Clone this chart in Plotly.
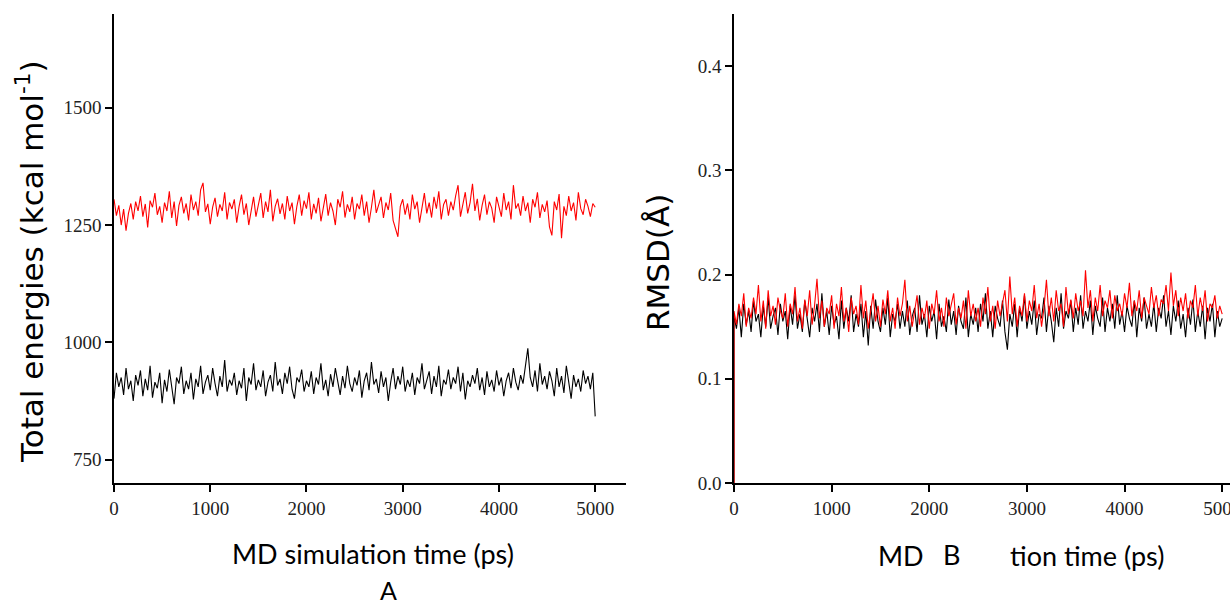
import plotly.graph_objects as go

# ---- data ----
time_ps = list(range(0, 5001, 25))

energy_red = [1305, 1270, 1292, 1250, 1284, 1238, 1275, 1296, 1262, 1300,
              1280, 1312, 1268, 1295, 1245, 1302, 1288, 1318, 1272, 1290,
              1255, 1298, 1280, 1322, 1265, 1300, 1248, 1292, 1310, 1275,
              1296, 1260, 1315, 1282, 1300, 1270, 1325, 1340, 1278, 1295,
              1252, 1288, 1308, 1268, 1294, 1280, 1320, 1262, 1298, 1284,
              1305, 1255, 1290, 1315, 1272, 1296, 1250, 1285, 1310, 1268,
              1292, 1318, 1265, 1300, 1278, 1325, 1258, 1290, 1306, 1274,
              1296, 1262, 1312, 1280, 1298, 1252, 1290, 1315, 1270, 1302,
              1285, 1320, 1262, 1295, 1275, 1308, 1258, 1292, 1316, 1270,
              1298, 1280, 1250, 1305, 1288, 1322, 1266, 1294, 1278, 1310,
              1262, 1296, 1284, 1315, 1270, 1300, 1255, 1288, 1325, 1276,
              1292, 1310, 1265, 1298, 1282, 1318, 1260, 1240, 1225, 1290,
              1305, 1272, 1296, 1262, 1315, 1284, 1300, 1255, 1290, 1318,
              1275, 1298, 1266, 1310, 1285, 1322, 1262, 1294, 1305, 1270,
              1300, 1282, 1312, 1335, 1268, 1295, 1320, 1275, 1298, 1338,
              1280, 1306, 1260, 1292, 1315, 1272, 1300, 1286, 1255, 1310,
              1290, 1268, 1318, 1282, 1300, 1262, 1335, 1285, 1296, 1270,
              1312, 1280, 1298, 1255, 1305, 1288, 1320, 1265, 1294, 1278,
              1302, 1246, 1228, 1300, 1282, 1316, 1222, 1290, 1270, 1312,
              1280, 1298, 1260, 1320, 1285, 1272, 1305, 1290, 1268, 1296,
              1288]

energy_black = [880, 935, 905, 925, 888, 945, 900, 918, 875, 930,
                908, 940, 885, 922, 898, 950, 882, 915, 902, 935,
                870, 920, 895, 942, 905, 868, 925, 912, 948, 890,
                918, 900, 935, 878, 922, 905, 950, 890, 915, 930,
                898, 945, 912, 885, 928, 905, 962, 895, 920, 908,
                935, 888, 918, 902, 945, 875, 925, 910, 955, 898,
                920, 905, 940, 885, 915, 930, 895, 958, 908, 922,
                890, 935, 912, 948, 900, 880, 925, 915, 942, 895,
                918, 905, 938, 890, 925, 910, 955, 898, 920, 885,
                932, 905, 945, 915, 888, 928, 902, 950, 912, 895,
                925, 908, 940, 882, 918, 935, 898, 958, 910, 922,
                892, 938, 905, 925, 875, 915, 945, 900, 928, 910,
                948, 895, 920, 905, 935, 888, 925, 912, 955, 900,
                918, 938, 890, 928, 905, 950, 885, 920, 910, 942,
                900, 925, 912, 948, 895, 935, 878, 918, 905, 930,
                912, 945, 898, 925, 888, 938, 905, 920, 895, 940,
                908, 925, 885, 918, 935, 902, 945, 915, 898, 930,
                912, 950, 987, 925, 905, 940, 895, 955, 910, 928,
                900, 938, 918, 885, 945, 905, 928, 892, 950, 915,
                880, 930, 905, 922, 895, 940, 912, 928, 900, 935,
                842]

rmsd_black = [0.160, 0.148, 0.168, 0.140, 0.172, 0.152, 0.165, 0.145, 0.175, 0.155,
              0.162, 0.140, 0.170, 0.150, 0.178, 0.148, 0.160, 0.168, 0.142, 0.172,
              0.155, 0.165, 0.138, 0.170, 0.152, 0.180, 0.148, 0.162, 0.145, 0.175,
              0.158, 0.140, 0.168, 0.155, 0.172, 0.145, 0.182, 0.150, 0.165, 0.142,
              0.170, 0.152, 0.160, 0.138, 0.175, 0.148, 0.168, 0.155, 0.180, 0.145,
              0.162, 0.150, 0.172, 0.140, 0.165, 0.132, 0.170, 0.148, 0.176, 0.155,
              0.145, 0.168, 0.152, 0.178, 0.140, 0.162, 0.155, 0.172, 0.148, 0.165,
              0.150, 0.175, 0.142, 0.160, 0.168, 0.145, 0.180, 0.152, 0.162, 0.140,
              0.170, 0.155, 0.165, 0.138, 0.172, 0.150, 0.160, 0.145, 0.176, 0.152,
              0.165, 0.142, 0.170, 0.155, 0.148, 0.178, 0.140, 0.162, 0.152, 0.168,
              0.145, 0.172, 0.155, 0.182, 0.148, 0.165, 0.140, 0.170, 0.158, 0.150,
              0.175, 0.145, 0.128, 0.162, 0.150, 0.172, 0.140, 0.168, 0.155, 0.180,
              0.148, 0.165, 0.152, 0.175, 0.142, 0.162, 0.158, 0.178, 0.145, 0.170,
              0.155, 0.135, 0.168, 0.150, 0.182, 0.148, 0.165, 0.158, 0.175, 0.145,
              0.168, 0.152, 0.180, 0.148, 0.165, 0.155, 0.175, 0.142, 0.170, 0.158,
              0.150, 0.178, 0.145, 0.168, 0.155, 0.172, 0.148, 0.180, 0.152, 0.165,
              0.145, 0.170, 0.158, 0.150, 0.175, 0.140, 0.168, 0.155, 0.178, 0.148,
              0.162, 0.150, 0.172, 0.145, 0.168, 0.158, 0.180, 0.150, 0.165, 0.142,
              0.170, 0.155, 0.175, 0.148, 0.162, 0.140, 0.168, 0.152, 0.176, 0.145,
              0.165, 0.150, 0.170, 0.138, 0.168, 0.155, 0.172, 0.140, 0.165, 0.150,
              0.158]

rmsd_red = [0.165, 0.152, 0.172, 0.160, 0.182, 0.150, 0.168, 0.158, 0.178, 0.162,
            0.190, 0.155, 0.175, 0.148, 0.185, 0.160, 0.170, 0.152, 0.178, 0.165,
            0.158, 0.182, 0.150, 0.172, 0.162, 0.188, 0.155, 0.168, 0.148, 0.176,
            0.160, 0.185, 0.152, 0.170, 0.196, 0.158, 0.175, 0.150, 0.168, 0.162,
            0.180, 0.148, 0.172, 0.160, 0.188, 0.155, 0.168, 0.145, 0.178, 0.162,
            0.170, 0.152, 0.190, 0.158, 0.175, 0.148, 0.165, 0.182, 0.155, 0.170,
            0.150, 0.176, 0.162, 0.185, 0.155, 0.168, 0.148, 0.178, 0.160, 0.172,
            0.195, 0.155, 0.170, 0.150, 0.165, 0.180, 0.152, 0.168, 0.158, 0.175,
            0.148, 0.172, 0.162, 0.185, 0.155, 0.168, 0.150, 0.178, 0.160, 0.170,
            0.182, 0.152, 0.168, 0.158, 0.175, 0.148, 0.185, 0.160, 0.172, 0.155,
            0.168, 0.150, 0.178, 0.162, 0.188, 0.155, 0.170, 0.148, 0.175, 0.160,
            0.172, 0.185, 0.155, 0.198, 0.162, 0.178, 0.150, 0.170, 0.160, 0.182,
            0.155, 0.175, 0.165, 0.190, 0.158, 0.172, 0.150, 0.168, 0.195, 0.160,
            0.178, 0.155, 0.185, 0.165, 0.172, 0.150, 0.188, 0.162, 0.176, 0.158,
            0.182, 0.165, 0.175, 0.160, 0.204, 0.168, 0.185, 0.155, 0.178, 0.165,
            0.190, 0.160, 0.175, 0.168, 0.185, 0.158, 0.180, 0.165, 0.172, 0.160,
            0.182, 0.168, 0.192, 0.160, 0.175, 0.165, 0.185, 0.158, 0.178, 0.170,
            0.162, 0.188, 0.168, 0.180, 0.160, 0.176, 0.172, 0.190, 0.165, 0.202,
            0.170, 0.185, 0.160, 0.178, 0.165, 0.182, 0.158, 0.175, 0.168, 0.190,
            0.160, 0.178, 0.165, 0.185, 0.155, 0.172, 0.168, 0.180, 0.158, 0.170,
            0.162]

rmsd_start = 0.0  # both RMSD curves start from zero at t = 0

x_ticks = [0, 1000, 2000, 3000, 4000, 5000]
energy_ticks = [750, 1000, 1250, 1500]
rmsd_ticks = [0.0, 0.1, 0.2, 0.3, 0.4]

# ---- figure ----
W, H = 1230, 602
fig = go.Figure()

fig.add_trace(go.Scatter(x=time_ps, y=energy_black, mode="lines",
                         line=dict(color="black", width=1.1), xaxis="x", yaxis="y",
                         showlegend=False))
fig.add_trace(go.Scatter(x=time_ps, y=energy_red, mode="lines",
                         line=dict(color="#ff0000", width=1.1), xaxis="x", yaxis="y",
                         showlegend=False))

rx = [0] + time_ps
fig.add_trace(go.Scatter(x=rx, y=[rmsd_start] + rmsd_black, mode="lines",
                         line=dict(color="black", width=1.1), xaxis="x2", yaxis="y2",
                         showlegend=False))
fig.add_trace(go.Scatter(x=rx, y=[rmsd_start] + rmsd_red, mode="lines",
                         line=dict(color="#ff0000", width=1.1), xaxis="x2", yaxis="y2",
                         showlegend=False))

tickfont = dict(family="Liberation Serif", size=19, color="#222")
ydom = [(H - 483) / H, (H - 14) / H]

axis_common = dict(showgrid=False, zeroline=False, showline=True, linecolor="black",
                   linewidth=1.5, ticks="outside", ticklen=7, tickwidth=1.5,
                   tickcolor="black", tickfont=tickfont, automargin=False,
                   ticklabeloverflow="allow")

fig.update_layout(
    template="none",
    width=W, height=H,
    margin=dict(l=0, r=0, t=0, b=0, pad=0),
    paper_bgcolor="white", plot_bgcolor="white",
    xaxis=dict(domain=[114 / W, 626 / W], range=[0, 5320], tickvals=x_ticks,
               anchor="y", **axis_common),
    yaxis=dict(domain=ydom, range=[700, 1700], tickvals=energy_ticks,
               anchor="x", **axis_common),
    xaxis2=dict(domain=[734 / W, 1.0], range=[0, 5080], tickvals=x_ticks,
                anchor="y2", **axis_common),
    yaxis2=dict(domain=ydom, range=[0, 0.45], tickvals=rmsd_ticks, tickformat=".1f",
                anchor="x2", **axis_common),
)

title_font = dict(family="DejaVu Sans", size=31, color="black")
xt_font = dict(family="Lato", size=27, color="black")

annotations = [
    dict(text="Total energies (kcal mol<sup>-1</sup>)", x=30 / W, y=(H - 262) / H,
         textangle=-90, font=title_font),
    dict(text="RMSD(Å)", x=658 / W, y=(H - 263) / H, textangle=-90, font=title_font),
    dict(text="MD simulation time (ps)", x=373 / W, y=(H - 553) / H, font=xt_font),
    dict(text="A", x=388 / W, y=(H - 590) / H, font=dict(family="Lato", size=25, color="black")),
    dict(text="MD", x=901 / W, y=(H - 555) / H, font=xt_font),
    dict(text="tion time (ps)", x=1008 / W, y=(H - 555) / H, xanchor="left", font=xt_font),
    dict(text="B", x=952 / W, y=(H - 554) / H, font=dict(family="Lato", size=27, color="black")),
]
for a in annotations:
    a.update(xref="paper", yref="paper", showarrow=False)
    if "xanchor" not in a:
        a["xanchor"] = "center"
    a["yanchor"] = "middle"
fig.update_layout(annotations=annotations)

fig.write_html("out.html", config={"displayModeBar": False},
               post_script="document.body.style.margin='0';document.body.style.overflow='hidden';")
